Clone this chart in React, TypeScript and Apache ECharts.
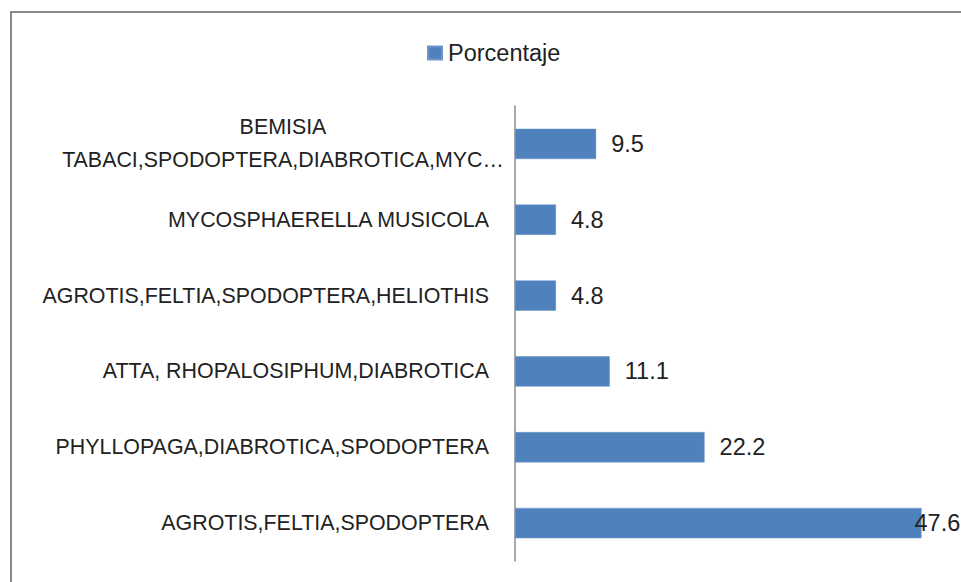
import React, { useEffect, useRef } from "react";
import * as echarts from "echarts";

const categories = [
  "AGROTIS,FELTIA,SPODOPTERA",
  "PHYLLOPAGA,DIABROTICA,SPODOPTERA",
  "ATTA, RHOPALOSIPHUM,DIABROTICA",
  "AGROTIS,FELTIA,SPODOPTERA,HELIOTHIS",
  "MYCOSPHAERELLA MUSICOLA",
  "BEMISIA\nTABACI,SPODOPTERA,DIABROTICA,MYC…",
];
const porcentaje = [47.6, 22.2, 11.1, 4.8, 4.8, 9.5];
const seriesName = "Porcentaje";

const FONT = "'Liberation Sans', sans-serif";

export default function App() {
  const ref = useRef<HTMLDivElement>(null);
  useEffect(() => {
    if (!ref.current) return;
    const chart = echarts.init(ref.current, null, { renderer: "svg" });
    chart.setOption({
      animation: false,
      backgroundColor: "#ffffff",
      textStyle: { fontFamily: FONT },
      graphic: [
        {
          type: "rect",
          shape: { x: 11, y: 12, width: 1100, height: 1000 },
          style: { fill: "none", stroke: "#878787", lineWidth: 2 },
          silent: true,
        },
      ],
      legend: {
        top: 41,
        left: 427,
        padding: 0,
        data: [seriesName],
        icon: "rect",
        itemWidth: 14,
        itemHeight: 13,
        itemGap: 6,
        textStyle: { fontFamily: FONT, fontSize: 23.5, color: "#222", padding: [0, 0, 0, 1] },
      },
      grid: { left: 515, top: 106, width: 427, height: 455, containLabel: false },
      xAxis: {
        type: "value",
        min: 0,
        max: 50,
        show: false,
      },
      yAxis: {
        type: "category",
        data: categories,
        axisLine: { show: true, lineStyle: { color: "#8c8c8c", width: 1.5 } },
        axisTick: { show: false },
        splitLine: { show: false },
        axisLabel: {
          margin: 26,
          fontFamily: FONT,
          fontSize: 21.4,
          color: "#222",
          lineHeight: 33,
          formatter: (v: string) =>
            v.indexOf("\n") >= 0
              ? v
                  .split("\n")
                  .map((l) => `{c|${l}}`)
                  .join("\n")
              : v,
          rich: {
            c: { width: 412, align: "center", fontFamily: FONT, fontSize: 21.4, color: "#222", lineHeight: 33 },
          },
        },
      },
      series: [
        {
          name: seriesName,
          type: "bar",
          barCategoryGap: "60%",
          itemStyle: { color: "#4f81bd", borderColor: "#6d96c9", borderWidth: 0.5 },
          data: porcentaje.map((v, i) =>
            i === 0 ? { value: v, label: { distance: -7 } } : v
          ),
          label: {
            show: true,
            position: "right",
            distance: 15,
            fontFamily: FONT,
            fontSize: 23.5,
            color: "#222",
            formatter: (p: any) => String(p.value),
          },
        },
      ],
    });
    return () => chart.dispose();
  }, []);
  return (
    <div
      ref={ref}
      style={{ position: "absolute", left: 0, top: 0, width: 961, height: 582 }}
    />
  );
}
